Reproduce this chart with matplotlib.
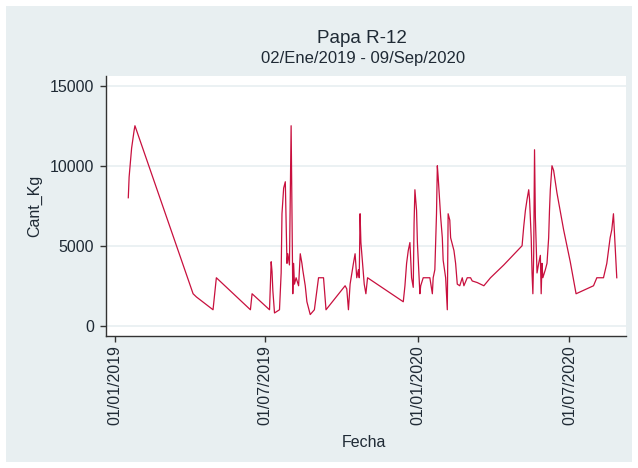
import matplotlib
matplotlib.use("Agg")
import matplotlib.pyplot as plt
import matplotlib.dates as mdates
import pandas as pd
from matplotlib.patches import Rectangle

# --- datos ---
fechas = [
    "2019-01-17", "2019-01-18", "2019-01-21", "2019-01-24", "2019-01-25",
    "2019-04-05", "2019-04-09", "2019-04-29", "2019-05-03", "2019-06-13",
    "2019-06-15", "2019-07-06", "2019-07-08", "2019-07-09", "2019-07-10",
    "2019-07-12", "2019-07-18", "2019-07-20", "2019-07-21", "2019-07-23",
    "2019-07-25", "2019-07-27", "2019-07-28", "2019-07-30", "2019-08-01",
    "2019-08-02", "2019-08-03", "2019-08-04", "2019-08-05", "2019-08-07",
    "2019-08-10", "2019-08-12", "2019-08-14", "2019-08-15", "2019-08-18",
    "2019-08-20", "2019-08-24", "2019-08-29", "2019-09-03", "2019-09-09",
    "2019-09-12", "2019-10-05", "2019-10-07", "2019-10-09", "2019-10-11",
    "2019-10-15", "2019-10-17", "2019-10-19", "2019-10-21", "2019-10-22",
    "2019-10-23", "2019-10-24", "2019-10-26", "2019-10-28", "2019-10-30",
    "2019-11-01", "2019-12-14", "2019-12-16", "2019-12-18", "2019-12-20",
    "2019-12-22", "2019-12-24", "2019-12-26", "2019-12-27", "2019-12-28",
    "2019-12-30", "2019-12-31", "2020-01-03", "2020-01-04", "2020-01-07",
    "2020-01-15", "2020-01-18", "2020-01-19", "2020-01-21", "2020-01-23",
    "2020-01-24", "2020-01-25", "2020-01-28", "2020-01-30", "2020-01-31",
    "2020-02-03", "2020-02-05", "2020-02-06", "2020-02-08", "2020-02-09",
    "2020-02-13", "2020-02-15", "2020-02-17", "2020-02-20", "2020-02-23",
    "2020-02-25", "2020-02-29", "2020-03-04", "2020-03-06", "2020-03-12",
    "2020-03-20", "2020-03-28", "2020-04-13", "2020-05-05", "2020-05-07",
    "2020-05-09", "2020-05-11", "2020-05-13", "2020-05-14", "2020-05-16",
    "2020-05-17", "2020-05-18", "2020-05-19", "2020-05-20", "2020-05-21",
    "2020-05-23", "2020-05-25", "2020-05-27", "2020-05-28", "2020-05-29",
    "2020-05-30", "2020-06-02", "2020-06-04", "2020-06-06", "2020-06-07",
    "2020-06-08", "2020-06-10", "2020-06-12", "2020-06-16", "2020-06-24",
    "2020-07-02", "2020-07-09", "2020-07-30", "2020-08-03", "2020-08-11",
    "2020-08-15", "2020-08-19", "2020-08-21", "2020-08-23", "2020-08-24",
    "2020-08-26", "2020-08-27",
]
cant_kg = [
    8000, 9300, 11100, 12200, 12500,
    2000, 1800, 1000, 3000, 1000,
    2000, 1000, 4000, 3400, 2200,
    800, 1000, 3300, 7000, 8600,
    9000, 3900, 4500, 3800, 12500,
    7500, 2000, 3900, 2600, 3000,
    2500, 4500, 3900, 3500, 2500,
    1500, 700, 1000, 3000, 3000,
    1000, 2500, 2300, 1000, 2600,
    3900, 4500, 3000, 3500, 3000,
    7000, 5200, 3900, 2600, 2000,
    3000, 1500, 2500, 3900, 4700,
    5200, 3000, 2400, 6400, 8500,
    7200, 5200, 2000, 2500, 3000,
    3000, 2000, 3000, 3500, 7000,
    10000, 9300, 6800, 5500, 4100,
    3000, 1000, 7000, 6600, 5500,
    4700, 3900, 2600, 2500, 3000,
    2500, 3000, 3000, 2800, 2700,
    2500, 3000, 3800, 5000, 6200,
    7200, 7900, 8500, 7900, 5500,
    3300, 2000, 4500, 11000, 6800,
    3300, 3900, 4400, 2000, 3900,
    3000, 3500, 3900, 5500, 7200,
    8500, 10000, 9700, 8300, 6000,
    4000, 2000, 2500, 3000, 3000,
    3900, 5500, 6000, 7000, 6000,
    3900, 3000,
]
ticks_x = ["2019-01-01", "2019-07-01", "2020-01-01", "2020-07-01"]
ticks_y = [0, 5000, 10000, 15000]

df = pd.DataFrame({"Fecha": pd.to_datetime(fechas), "Cant_Kg": cant_kg})

# --- estilo ---
fondo = "#E8EFF1"
texto = "#1F2A35"
plt.rcParams["font.family"] = ["Liberation Sans", "DejaVu Sans"]

fig = plt.figure(figsize=(6.38, 4.68), dpi=100, facecolor="white")
fig.patches.append(Rectangle((6 / 638, 6 / 468), 626 / 638, 456 / 468,
                             transform=fig.transFigure, facecolor=fondo,
                             edgecolor="none", zorder=-10))

ax = fig.add_axes([106 / 638, 1 - 336 / 468, 519.5 / 638, 260.5 / 468])
ax.set_facecolor("white")

ax.plot(df["Fecha"], df["Cant_Kg"], color="#C8103E", linewidth=0.9)

# ejes
ax.set_xlim(pd.Timestamp("2018-12-21 04:00"), pd.Timestamp("2020-09-06 12:00"))
ax.set_ylim(-640, 15640)
ax.set_yticks(ticks_y)
ax.set_xticks(pd.to_datetime(ticks_x))
ax.xaxis.set_major_formatter(mdates.DateFormatter("%d/%m/%Y"))
ax.tick_params(axis="x", labelrotation=90, length=4.5, width=1, pad=2,
               labelsize=11.5, colors="#333333", labelcolor=texto)
ax.tick_params(axis="y", length=4.5, width=1, pad=4, labelsize=11.5,
               colors="#333333", labelcolor=texto)

ax.grid(axis="y", color=fondo, linewidth=1.2)
ax.set_axisbelow(True)
for lado in ["top", "right"]:
    ax.spines[lado].set_visible(False)
for lado in ["left", "bottom"]:
    ax.spines[lado].set_color("#333333")
    ax.spines[lado].set_linewidth(1.0)

ax.set_xlabel("Fecha", fontsize=11.5, color=texto, va="baseline")
ax.xaxis.set_label_coords(0.497, -0.425)
ax.set_ylabel("Cant_Kg", fontsize=11.5, color=texto, va="center")
ax.yaxis.set_label_coords(-0.1376, 0.5)

# títulos
fig.text(0.567, 1 - 43.3 / 468, "Papa R-12", ha="center", va="baseline",
         fontsize=13.5, color=texto)
fig.text(0.569, 1 - 62.7 / 468, "02/Ene/2019 - 09/Sep/2020", ha="center",
         va="baseline", fontsize=12, color=texto)

fig.savefig("out.png", dpi=100, facecolor="white")
